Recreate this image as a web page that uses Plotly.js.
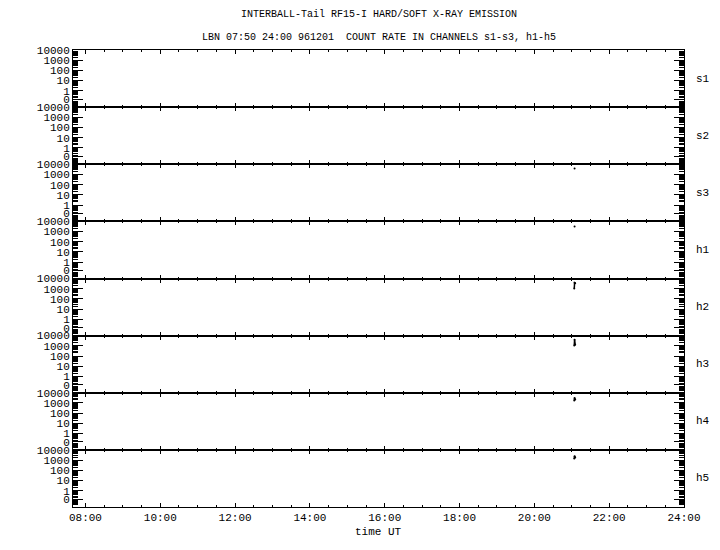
<!DOCTYPE html>
<html>
<head>
<meta charset="utf-8">
<script src="https://cdn.plot.ly/plotly-3.0.1.min.js"></script>
<style>body{margin:0;background:#fff}#chart{width:720px;height:550px}</style>
</head>
<body>
<div id="chart"></div>
<script>
// ---- data ----
const channels = ['s1', 's2', 's3', 'h1', 'h2', 'h3', 'h4', 'h5'];
const times = ['1996-12-01 21:04:00', '1996-12-01 21:04:30', '1996-12-01 21:05:30'];
const s1 = [null, null, null];
const s2 = [null, null, null];
const s3 = [null, 3800, null];
const h1 = [null, 3200, null];
const h2 = [1050, 3800, 3500];
const h3 = [1100, 4000, 1300];
const h4 = [1750, 3000, 2200];
const h5 = [1400, 2400, 1800];
const series = [s1, s2, s3, h1, h2, h3, h4, h5];
const xTickVals = ['1996-12-01 08:00', '1996-12-01 10:00', '1996-12-01 12:00', '1996-12-01 14:00',
  '1996-12-01 16:00', '1996-12-01 18:00', '1996-12-01 20:00', '1996-12-01 22:00', '1996-12-02 00:00'];
const xTickText = ['08:00', '10:00', '12:00', '14:00', '16:00', '18:00', '20:00', '22:00', '24:00'];
const yTickVals = [0.15, 1, 10, 100, 1000, 10000];
const yTickText = ['0', '1', '10', '100', '1000', '10000'];
const xRange = ['1996-12-01 07:40', '1996-12-02 00:00'];
const titleLine1 = 'INTERBALL-Tail RF15-I HARD/SOFT X-RAY EMISSION';
const titleLine2 = 'LBN 07:50 24:00 961201  COUNT RATE IN CHANNELS s1-s3, h1-h5';

// ---- build ----
const FONT = 'Liberation Mono, DejaVu Sans Mono, monospace';
const n = channels.length;
const minorY = [];
for (let d = -2; d <= 4; d++) for (let k = 1; k <= 9; k++) minorY.push(k * Math.pow(10, d));

const traces = [];
const layout = {
  width: 720, height: 550,
  margin: {l: 73, r: 36, t: 50, b: 43},
  paper_bgcolor: '#fff', plot_bgcolor: '#fff',
  showlegend: false,
  font: {family: FONT, size: 11, color: '#000'},
  annotations: []
};
for (let i = 0; i < n; i++) {
  const sfx = i === 0 ? '' : String(i + 1);
  traces.push({
    x: times, y: series[i], type: 'scatter', mode: 'lines+markers',
    xaxis: 'x' + sfx, yaxis: 'y' + sfx,
    line: {color: '#000', width: 1.5}, marker: {color: '#000', size: 2},
    connectgaps: false, hoverinfo: 'none'
  });
  const top = 1 - i / n, bot = 1 - (i + 1) / n;
  layout['xaxis' + sfx] = {
    domain: [0, 1], anchor: 'y' + sfx, type: 'date', range: xRange,
    tickmode: 'array', tickvals: xTickVals, ticktext: xTickText,
    showticklabels: i === n - 1, ticks: 'inside', ticklen: 4, tickwidth: 1, tickcolor: '#000',
    minor: {ticks: 'inside', ticklen: 2, tickwidth: 1, tickcolor: '#000', dtick: 30 * 60 * 1000, tick0: '1996-12-01 08:00', showgrid: false},
    showline: true, linecolor: '#000', linewidth: 1, mirror: 'ticks',
    showgrid: false, zeroline: false, fixedrange: true,
    tickfont: {family: FONT, size: 11}
  };
  if (i > 0) layout['xaxis' + sfx].matches = 'x';
  layout['yaxis' + sfx] = {
    domain: [bot, top], anchor: 'x' + sfx, type: 'log', range: [-1.6, 4.0],
    tickmode: 'array', tickvals: yTickVals, ticktext: yTickText,
    ticks: 'inside', ticklen: 10, tickwidth: 1, tickcolor: '#000',
    minor: {ticks: 'inside', ticklen: 5, tickwidth: 1, tickcolor: '#000', tickmode: 'array', tickvals: minorY, showgrid: false},
    showline: true, linecolor: '#000', linewidth: 1, mirror: 'ticks',
    showgrid: false, zeroline: false, fixedrange: true,
    tickfont: {family: FONT, size: 11}
  };
  layout.annotations.push({
    text: channels[i], xref: 'paper', yref: 'paper', x: 1, y: (top + bot) / 2,
    xanchor: 'left', yanchor: 'middle', xshift: 10, showarrow: false,
    font: {family: FONT, size: 11, color: '#000'}
  });
}
layout.annotations.push(
  {text: titleLine1, xref: 'paper', yref: 'paper', x: 0.5, y: 1, yshift: 36, xanchor: 'center', yanchor: 'middle',
   showarrow: false, font: {family: FONT, size: 10, color: '#000'}},
  {text: titleLine2, xref: 'paper', yref: 'paper', x: 0.5, y: 1, yshift: 13, xanchor: 'center', yanchor: 'middle',
   showarrow: false, font: {family: FONT, size: 10, color: '#000'}},
  {text: 'time UT', xref: 'paper', yref: 'paper', x: 0.5, y: 0, yshift: -25, xanchor: 'center', yanchor: 'middle',
   showarrow: false, font: {family: FONT, size: 11, color: '#000'}}
);
Plotly.newPlot('chart', traces, layout, {displayModeBar: false, staticPlot: true});
</script>
</body>
</html>
